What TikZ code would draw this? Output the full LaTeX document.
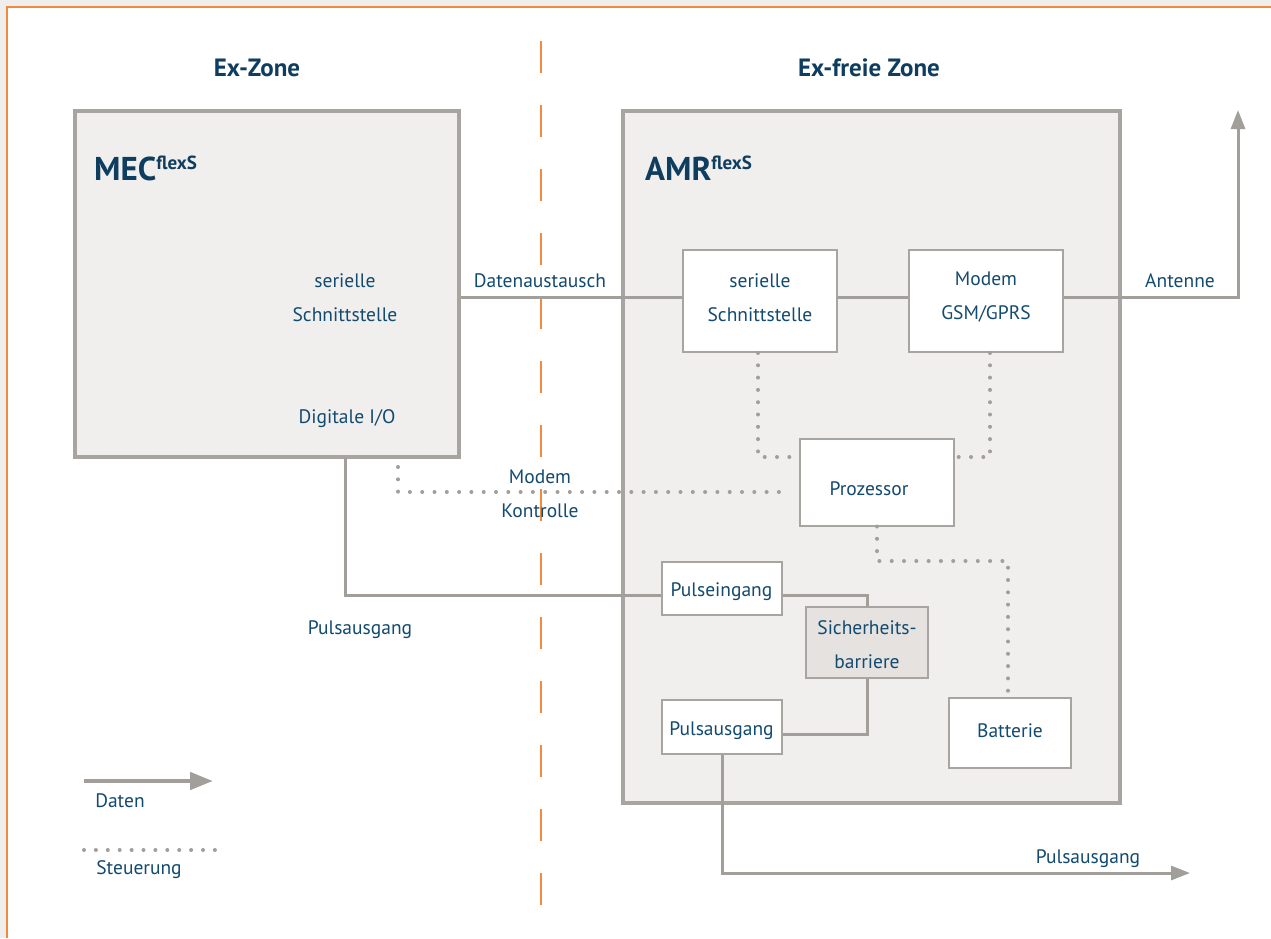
\documentclass[tikz,border=0pt]{standalone}
\usepackage{fontspec}
\setmainfont{PT Sans}
\usetikzlibrary{arrows.meta,calc}
\definecolor{txt}{HTML}{134A6F}
\definecolor{ttl}{HTML}{0F3D5F}
\definecolor{ln}{HTML}{A29E9A}
\definecolor{bx}{HTML}{A8A4A0}
\definecolor{fillbig}{HTML}{F0EFEE}
\definecolor{fillsich}{HTML}{E5E2E0}
\definecolor{bggray}{HTML}{EFEEED}
\definecolor{orng}{HTML}{F08A3C}
\tikzset{
  big/.style={draw=bx,line width=4pt,fill=fillbig,minimum width=#1,inner sep=0pt},
  small/.style={draw=bx,line width=2pt,fill=white,inner sep=0pt},
  lbl/.style={text=txt,font=\fontsize{19.5}{34}\selectfont,inner sep=0pt,align=center,yshift=-2.5pt},
  ttlf/.style={text=ttl,font=\fontsize{25}{28}\selectfont\bfseries,inner sep=0pt},
  data/.style={draw=ln,line width=3pt},
  ctrl/.style={draw=ln,line width=4pt,line cap=round,dash pattern=on 0pt off 12.3pt},
  tip/.style={-{Triangle[length=19pt,width=14pt]}},
  bigtip/.style={-{Triangle[length=23pt,width=17pt]}}
}
\newcommand{\brand}[2]{\fontsize{33}{36}\selectfont\bfseries #1\raisebox{11pt}{\fontsize{19}{20}\selectfont #2}}
\begin{document}
\begin{tikzpicture}[x=1pt,y=-1pt]
\useasboundingbox (0,0) rectangle (1271,938);
\fill[bggray] (0,0) rectangle (1271,938);
\fill[white] (7,7) rectangle (1271,938);
\draw[orng,line width=2pt] (7,938) -- (7,7) -- (1271,7);
% zone divider
\draw[orng,line width=2pt,dash pattern=on 32pt off 32pt] (541,41) -- (541,910);
% titles
\node[ttlf] (tz1) at (257,68) {Ex-Zone};
\node[ttlf] (tz2) at (869,68) {Ex-freie Zone};
% big boxes
\node[big=384pt,minimum height=346pt] (mec) at (267,284) {};
\node[big=497pt,minimum height=692pt] (amr) at (871.5,457) {};
\node[text=ttl,anchor=base west,inner sep=0pt] (mect) at (94,180) {\brand{MEC}{flexS}};
\node[text=ttl,anchor=base west,inner sep=0pt] (amrt) at (645,180) {\brand{AMR}{flexS}};
\node[lbl] (ms1) at (345,295) {serielle\\Schnittstelle};
\node[lbl] (mdio) at (347,416) {Digitale I/O};
% small boxes
\node[small,minimum width=154pt,minimum height=102pt] (ser) at (760,301) {};
\node[small,minimum width=154pt,minimum height=102pt] (modem) at (986,301) {};
\node[small,minimum width=154pt,minimum height=87pt] (proz) at (877,482) {};
\node[small,minimum width=120pt,minimum height=53pt] (pein) at (721.5,588.5) {};
\node[small,fill=fillsich,minimum width=122pt,minimum height=71pt] (sich) at (867,642.5) {};
\node[small,minimum width=120pt,minimum height=54pt] (paus) at (721.5,727) {};
\node[small,minimum width=122pt,minimum height=70pt] (batt) at (1010,733) {};
% box texts
\node[lbl] (tser) at ($(ser)+(0,-6)$) {serielle\\Schnittstelle};
\node[lbl] (tmod) at ($(modem)+(0,-6)$) {Modem\\GSM/GPRS};
\node[lbl] (tproz) at ($(proz)+(-8,4)$) {Prozessor};
\node[lbl] (tpein) at ($(pein)+(0,1)$) {Pulseingang};
\node[lbl] (tsich) at (sich) {Sicherheits-\\barriere};
\node[lbl] (tpaus) at ($(paus)+(0,1)$) {Pulsausgang};
\node[lbl] (tbatt) at ($(batt)+(0,-5)$) {Batterie};
% helper coordinates
\coordinate (sl) at ($(ser.west)+(0,-4)$);
\coordinate (ant) at (1238,110);
\coordinate (mo) at (345,457);
\coordinate (pl) at ($(pein.west)+(0,7)$);
\coordinate (ql) at ($(paus.east)+(0,7)$);
\coordinate (po) at (722,873);
\coordinate (pend) at (1190,873);
\coordinate (mk) at (398,467);
\coordinate (c1) at (0,457);
\coordinate (c2) at (0,492);
\coordinate (c3) at (0,561);
% data lines
\draw[data] (mec.east |- sl) -- (sl);
\draw[data] (ser.east |- sl) -- (modem.west |- sl);
\draw[data,tip] (modem.east |- sl) -| (ant);
\draw[data] (mo) |- (pl);
\draw[data] (pein.east |- pl) -| (sich.north);
\draw[data] (sich.south) |- (ql);
\draw[data,tip] (paus.south -| po) |- (pend);
% control lines
\draw[ctrl] ([xshift=-2pt]ser.south) |- (proz.west |- c1);
\draw[ctrl] ([xshift=4pt]modem.south) |- (proz.east |- c1);
\draw[ctrl] (mk) |- ([xshift=-10pt]proz.west |- c2);
\draw[ctrl] (proz.south) |- ([xshift=-2pt]batt.north |- c3) -- ([xshift=-2pt]batt.north);
% labels
\node[lbl] (ld) at (540,278) {Datenaustausch};
\node[lbl] (la) at (1180,278) {Antenne};
\node[lbl] (lmk) at (540,491) {Modem\\Kontrolle};
\node[lbl] (lp1) at (360,627) {Pulsausgang};
\node[lbl] (lp2) at (1088,856) {Pulsausgang};
% legend
\coordinate (lg1) at (84,781);
\coordinate (lg2) at (213,781);
\draw[data,line width=4.5pt,bigtip] (lg1) -- (lg2);
\node[lbl] (ldat) at (120,798) {Daten};
\coordinate (lg3) at (84,850);
\coordinate (lg4) at (215,850);
\draw[ctrl,line width=4pt,dash pattern=on 0pt off 11.9pt] (lg3) -- (lg4);
\node[lbl] (lst) at (139,867) {Steuerung};
\end{tikzpicture}
\end{document}
